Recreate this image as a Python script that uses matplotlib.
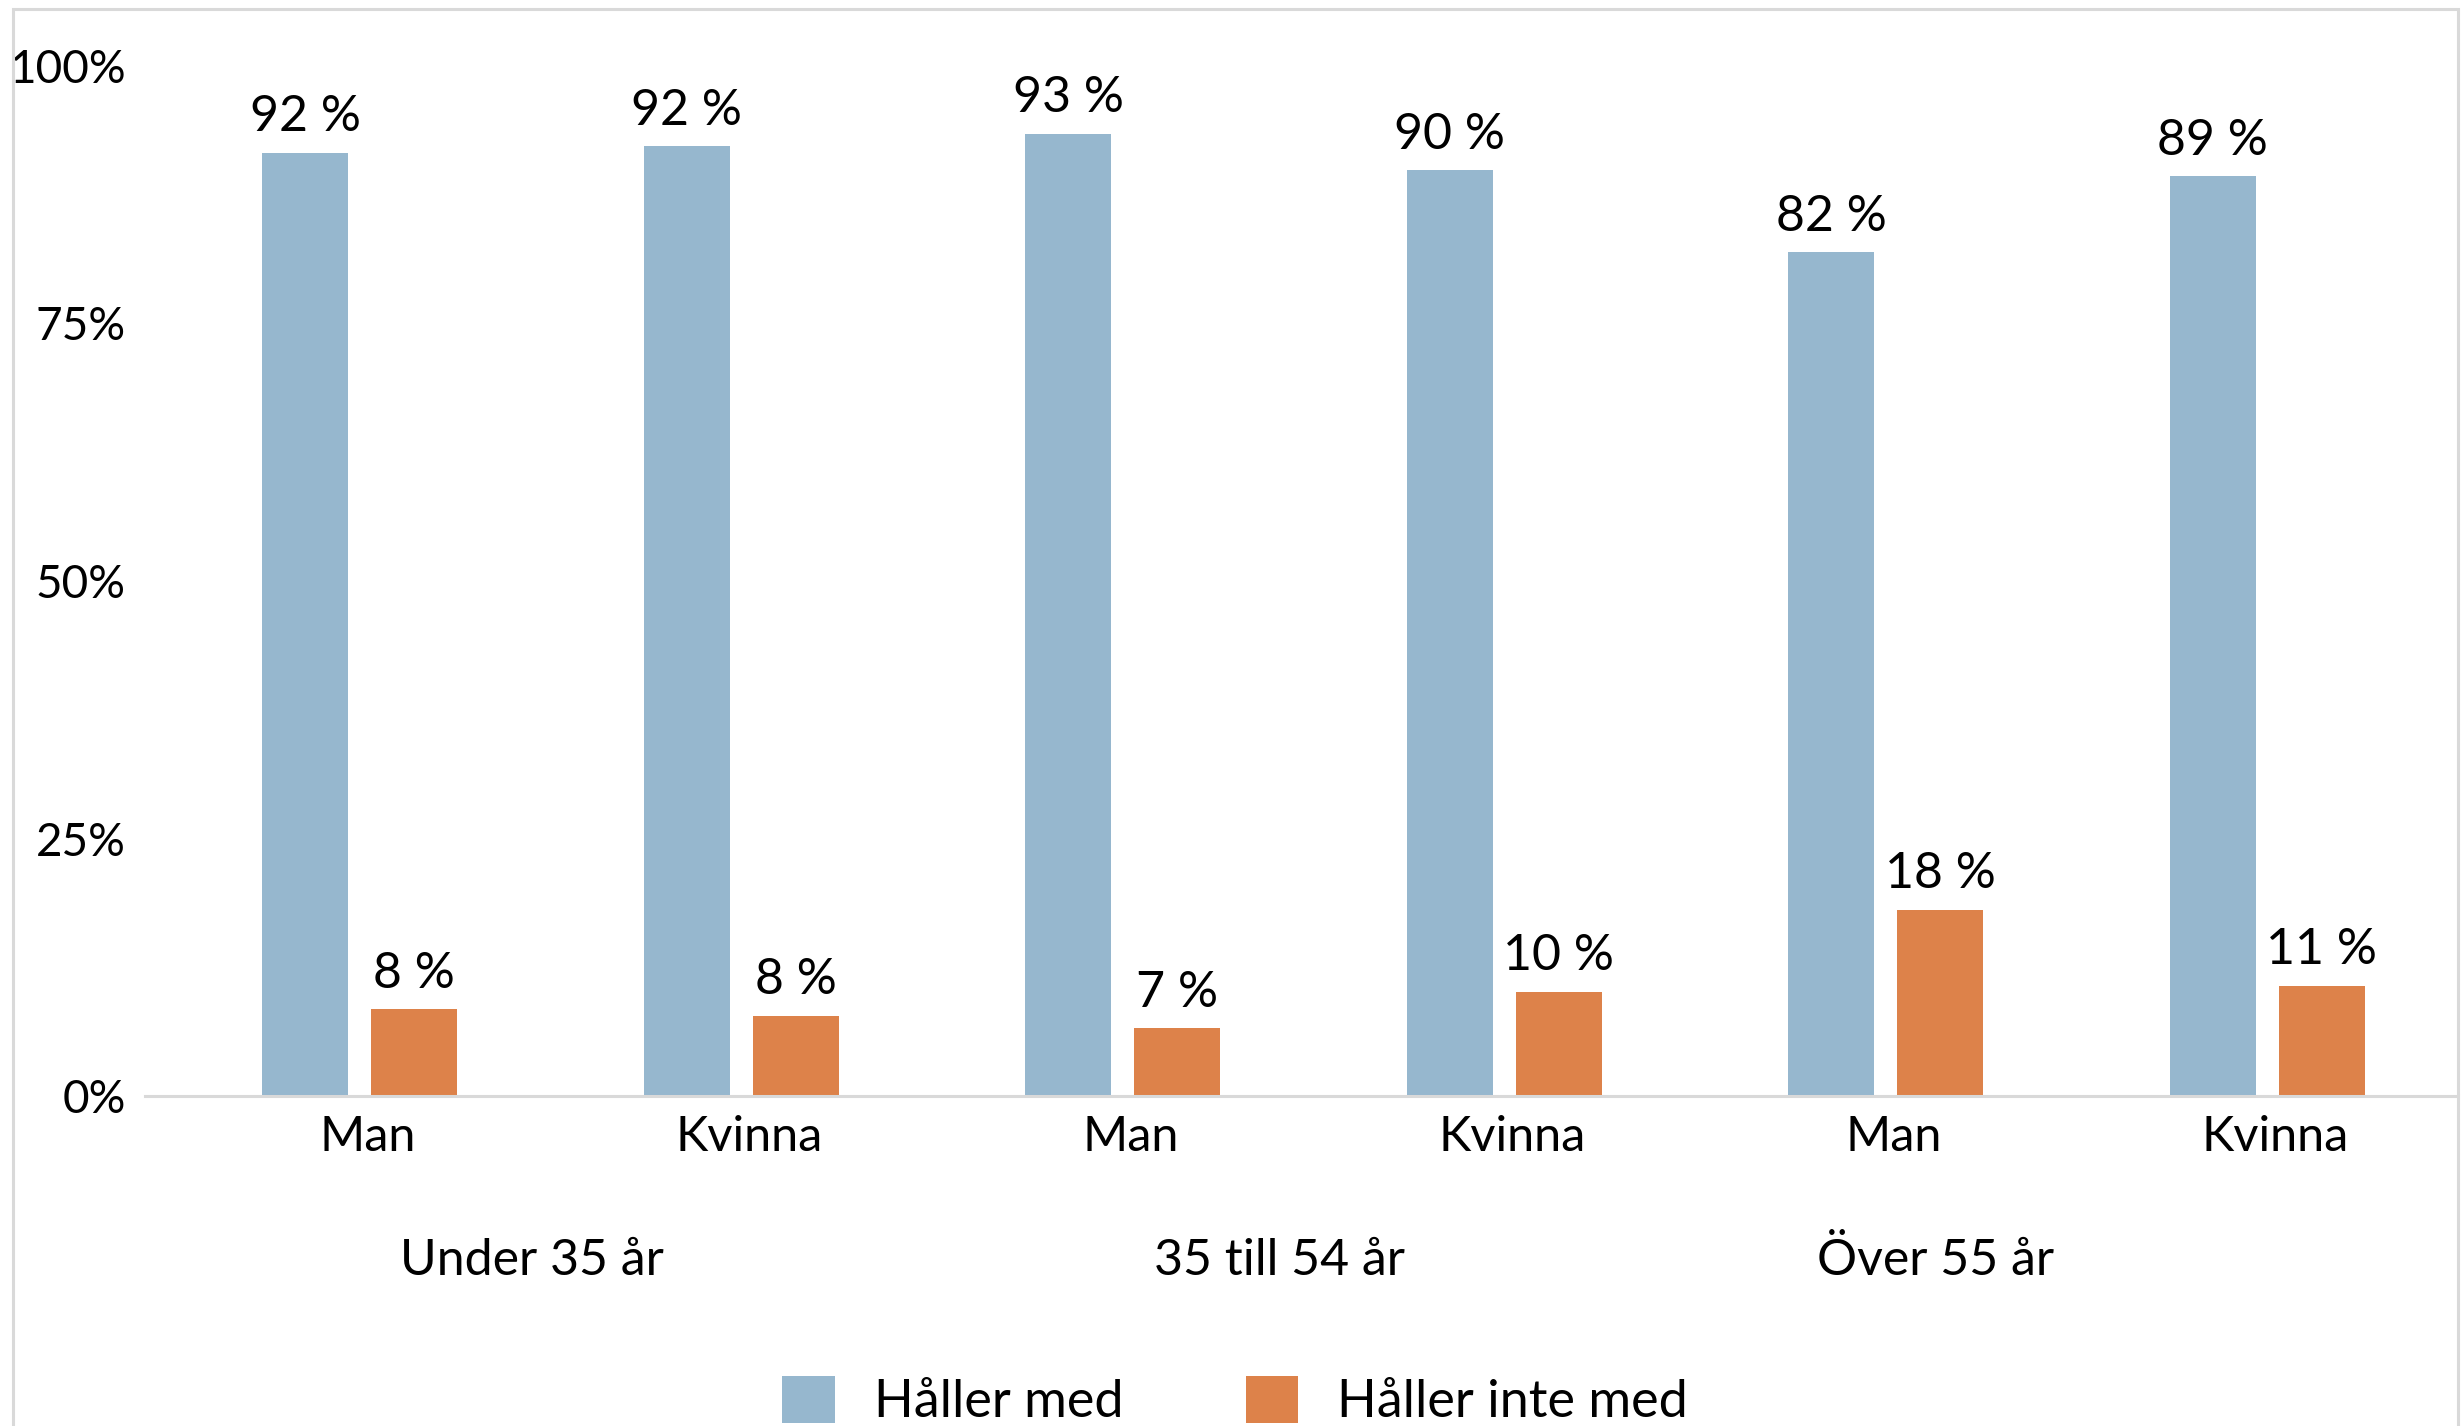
import matplotlib.pyplot as plt
from matplotlib.patches import Rectangle
import numpy as np

plt.rcParams['font.family'] = ['Lato', 'DejaVu Sans']

# data
categories = ['Man', 'Kvinna', 'Man', 'Kvinna', 'Man', 'Kvinna']
groups = ['Under 35 år', '35 till 54 år', 'Över 55 år']
haller_med = [91.6, 92.2, 93.4, 89.9, 81.9, 89.3]
haller_inte_med = [8.4, 7.8, 6.6, 10.1, 18.1, 10.7]
series_names = ['Håller med', 'Håller inte med']
y_ticks = [0, 25, 50, 75, 100]

# layout
blue = '#96B7CE'
orange = '#DD824A'
grid_grey = '#D9D9D9'
group_label_x = [0.45, 2.41, 4.13]
bar_w = 0.225
offset = 0.143

fig = plt.figure(figsize=(24.62, 14.26), dpi=100)
ax = fig.add_axes([145 / 2462, 1 - 1096 / 1426, (2458 - 145) / 2462, (1096 - 66) / 1426])

x = np.arange(len(categories))
b1 = ax.bar(x - offset, haller_med, bar_w, color=blue, label=series_names[0])
b2 = ax.bar(x + offset, haller_inte_med, bar_w, color=orange, label=series_names[1])

for bars in (b1, b2):
    ax.bar_label(bars, fmt='{:.0f} %', padding=9, fontsize=36)

ax.set_xlim(-0.563, 5.5)
ax.set_ylim(0, 100)
ax.set_yticks(y_ticks)
ax.set_yticklabels([f'{t}%' for t in y_ticks])
ax.set_xticks(x + 0.02)
ax.set_xticklabels(categories)
ax.tick_params(axis='both', length=0)
ax.tick_params(axis='x', pad=14, labelsize=35)
ax.tick_params(axis='y', pad=14, labelsize=33)

for s in ('top', 'right', 'left'):
    ax.spines[s].set_visible(False)
ax.spines['bottom'].set_color(grid_grey)
ax.spines['bottom'].set_linewidth(2.2)

for gx, g in zip(group_label_x, groups):
    ax.text(gx, -0.16, g, transform=ax.get_xaxis_transform(), ha='center', va='center', fontsize=36)

fig.legend(loc='center', bbox_to_anchor=(0.5016, 1 - 1401 / 1426), ncol=2, frameon=False,
           fontsize=37.5, handlelength=1.0, handleheight=1.0, handletextpad=0.75, columnspacing=2.35)

# chart border (bottom edge falls outside the image)
fig.patches.append(Rectangle((13 / 2462, -0.1), (2458 - 13) / 2462, 1.1 - 9 / 1426,
                             transform=fig.transFigure, fill=False, edgecolor=grid_grey, linewidth=2.2))

fig.savefig('out.png', dpi=100)
